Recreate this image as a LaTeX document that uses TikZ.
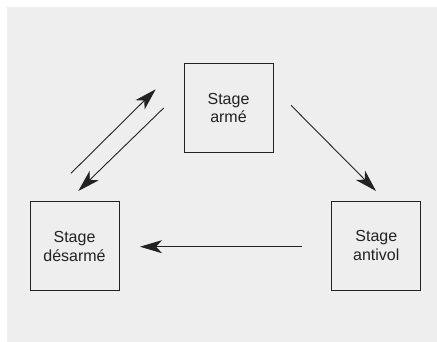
\documentclass[tikz,border=0pt]{standalone}
\usepackage{fontspec}
\setmainfont{Liberation Sans}
\usetikzlibrary{arrows.meta}
\definecolor{bggray}{HTML}{EEEEEE}
\definecolor{ink}{HTML}{222222}
\begin{document}
\begin{tikzpicture}[x=1pt,y=-1pt,
  stagebox/.style={draw=ink,line width=1pt,minimum width=89pt,minimum height=89pt,inner sep=0pt,align=center,font=\fontsize{16}{18.5}\selectfont,text=ink},
  conn/.style={draw=ink,line width=0.9pt,-{Stealth[length=22pt,width=13pt,inset=6pt]}}]
\useasboundingbox (0,0) rectangle (437,342);
\fill[bggray] (7,7) rectangle (437,342);
\node[stagebox] (arme) at (228.5,108) {Stage\\armé};
\node[stagebox] (desarme) at (74.5,246.5) {Stage\\désarmé};
\node[stagebox] (antivol) at (376.3,245.7) {Stage\\antivol};
\coordinate (a1) at (71,173.3);
\coordinate (a2) at (155.7,89.3);
\coordinate (b1) at (163.7,108);
\coordinate (b2) at (78.3,191);
\coordinate (c1) at (291,105.3);
\coordinate (c2) at (376,191);
\coordinate (d1) at (302,246.7);
\coordinate (d2) at (140,246.7);
\draw[conn] (a1) -- (a2);
\draw[conn] (b1) -- (b2);
\draw[conn] (c1) -- (c2);
\draw[conn] (d1) -- (d2);
\end{tikzpicture}
\end{document}
